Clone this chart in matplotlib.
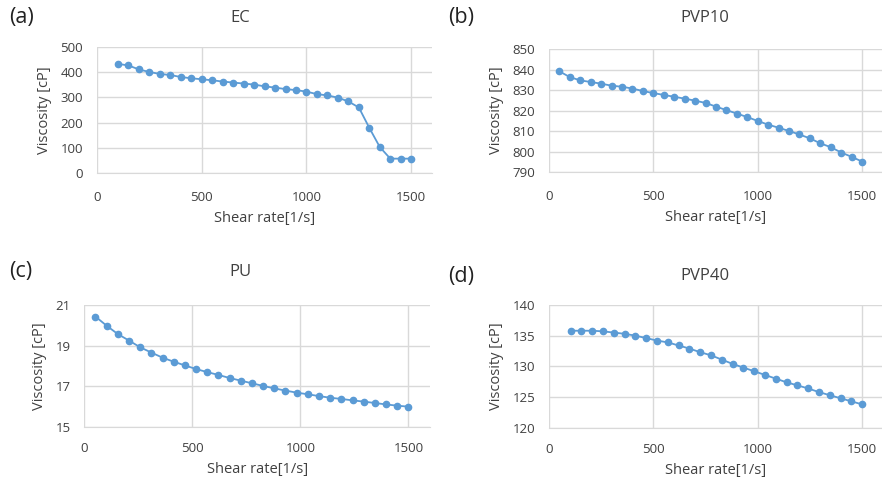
import matplotlib
matplotlib.use('Agg')
import matplotlib.pyplot as plt

# shear rates
ec_x = [100, 150, 200, 250, 300, 350, 400, 450, 500, 550, 600, 650, 700, 750, 800,
        850, 900, 950, 1000, 1050, 1100, 1150, 1200, 1250, 1300, 1350, 1400, 1450, 1500]
ec_y = [433, 427, 411, 401, 393, 389, 381, 376, 372, 368, 363, 359, 355, 351, 344,
        339, 333, 329, 323, 313, 308, 299, 284, 260, 179, 103, 57, 57, 57]

pvp10_x = [50, 100, 150, 200, 250, 300, 350, 400, 450, 500, 550, 600, 650, 700, 750,
           800, 850, 900, 950, 1000, 1050, 1100, 1150, 1200, 1250, 1300, 1350, 1400, 1450, 1500]
pvp10_y = [839.1, 836.3, 834.7, 833.9, 833.1, 832.1, 831.6, 830.7, 829.5, 828.5,
           827.6, 826.7, 825.8, 824.8, 823.7, 821.9, 820.2, 818.5, 816.8, 814.9,
           813.1, 811.6, 810.0, 808.3, 806.4, 804.0, 802.1, 799.5, 797.4, 795.1]

pu_x = [51.7, 103.4, 155.2, 206.9, 258.6, 310.3, 362.1, 413.8, 465.5, 517.2, 569.0,
        620.7, 672.4, 724.1, 775.9, 827.6, 879.3, 931.0, 982.8, 1034.5, 1086.2,
        1137.9, 1189.7, 1241.4, 1293.1, 1344.8, 1396.6, 1448.3, 1500.0]
pu_y = [20.43, 19.98, 19.57, 19.25, 18.92, 18.66, 18.41, 18.21, 18.03, 17.85,
        17.70, 17.56, 17.41, 17.28, 17.15, 17.02, 16.90, 16.79, 16.69, 16.61,
        16.52, 16.44, 16.38, 16.31, 16.25, 16.18, 16.11, 16.05, 16.00]

pvp40_x = [103.4, 155.2, 206.9, 258.6, 310.3, 362.1, 413.8, 465.5, 517.2, 569.0,
           620.7, 672.4, 724.1, 775.9, 827.6, 879.3, 931.0, 982.8, 1034.5, 1086.2,
           1137.9, 1189.7, 1241.4, 1293.1, 1344.8, 1396.6, 1448.3, 1500.0]
pvp40_y = [135.8, 135.8, 135.8, 135.7, 135.5, 135.3, 135.0, 134.6, 134.2, 133.9,
           133.4, 132.9, 132.3, 131.8, 131.1, 130.4, 129.8, 129.2, 128.6, 128.0,
           127.4, 126.9, 126.4, 125.8, 125.3, 124.8, 124.3, 123.8]

plt.rcParams['font.family'] = ['Open Sans', 'DejaVu Sans']

BLUE = '#5b9bd5'
GRID = '#d9d9d9'
TXT = '#404040'

fig = plt.figure(figsize=(8.82, 4.94), dpi=100)


def panel(rect, x, y, yticks, title, letter, title_x, letter_x, title_y, xpad):
    ax = fig.add_axes(rect)
    ax.plot(x, y, color=BLUE, lw=1.3, marker='o', ms=4.5, mec=BLUE, mfc=BLUE)
    ax.set_xlim(0, 1600)
    ax.set_ylim(yticks[0], yticks[-1])
    ax.set_xticks([0, 500, 1000, 1500])
    ax.set_yticks(yticks)
    ax.grid(True, color=GRID, lw=1)
    ax.set_axisbelow(True)
    for s in ['top', 'right', 'left']:
        ax.spines[s].set_visible(False)
    ax.spines['bottom'].set_color(GRID)
    ax.tick_params(length=0, labelsize=9.5, colors=TXT)
    ax.tick_params(axis='x', pad=xpad)
    ax.tick_params(axis='y', pad=10)
    ax.set_xlabel('Shear rate[1/s]', fontsize=10.5, color=TXT, labelpad=5)
    ax.set_ylabel('Viscosity [cP]', fontsize=10.5, color=TXT, labelpad=6)
    fig.text(title_x, title_y, title, fontsize=12, color=TXT, ha='center', va='center')
    fig.text(letter_x, title_y, letter, fontsize=15.5, color='#222222', ha='left', va='center')
    return ax


panel([0.110, 0.6498, 0.380, 0.255], ec_x, ec_y, [0, 100, 200, 300, 400, 500],
      'EC', '(a)', 240 / 882, 9 / 882, 1 - 18 / 494, 13)
panel([0.6224, 0.6518, 0.3787, 0.249], pvp10_x, pvp10_y,
      [790, 800, 810, 820, 830, 840, 850],
      'PVP10', '(b)', 705 / 882, 448 / 882, 1 - 18 / 494, 13)
panel([0.0956, 0.1356, 0.392, 0.247], pu_x, pu_y, [15, 17, 19, 21],
      'PU', '(c)', 240 / 882, 9 / 882, 1 - 272 / 494, 11)
panel([0.6224, 0.1342, 0.3787, 0.2485], pvp40_x, pvp40_y,
      [120, 125, 130, 135, 140],
      'PVP40', '(d)', 705 / 882, 448 / 882, 1 - 276 / 494, 11)

fig.savefig('out.png', dpi=100)
